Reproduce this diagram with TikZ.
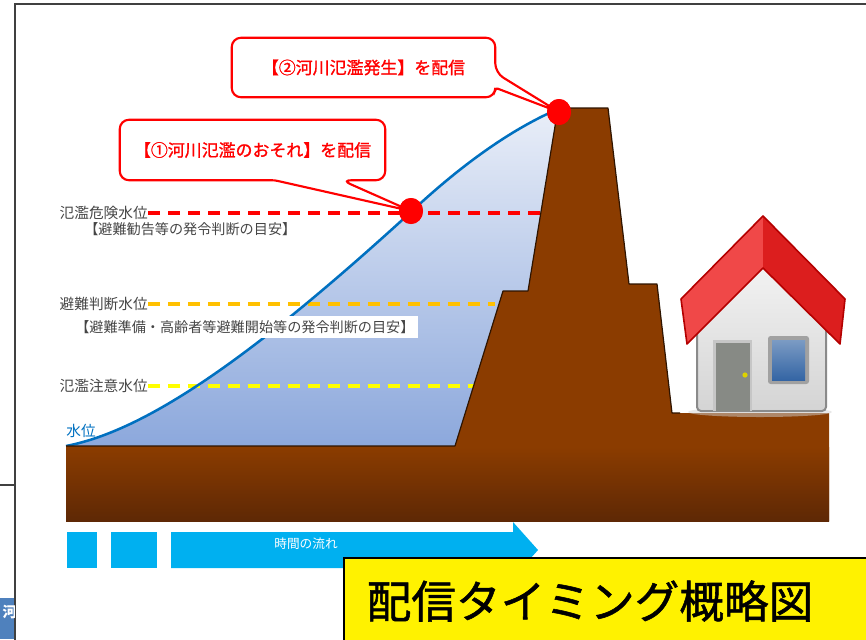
\documentclass[tikz,border=0pt]{standalone}
\usepackage{fontspec}
\newfontfamily\jp{Noto Sans CJK JP}
\newfontfamily\jpheavy[FakeBold=1.2]{Noto Sans CJK JP}
\usetikzlibrary{calc,shapes.geometric}

\definecolor{frameGray}{HTML}{404040}
\definecolor{labelGray}{HTML}{454545}
\definecolor{riverBlue}{HTML}{0070C0}
\definecolor{waterTop}{HTML}{E9EEF8}
\definecolor{waterBottom}{HTML}{8CA8DC}
\definecolor{earth}{HTML}{8B3C00}
\definecolor{earthDark}{HTML}{5E2805}
\definecolor{earthLine}{HTML}{2E1400}
\definecolor{alertRed}{HTML}{FF0000}
\definecolor{warnOrange}{HTML}{FFC000}
\definecolor{cautionYellow}{HTML}{FFFF00}
\definecolor{timeCyan}{HTML}{00B0F0}
\definecolor{roofLight}{HTML}{F04848}
\definecolor{roofDark}{HTML}{DC1E1E}
\definecolor{roofLine}{HTML}{B40000}
\definecolor{wallLight}{HTML}{F4F4F4}
\definecolor{wallShade}{HTML}{D4D4D4}
\definecolor{wallLine}{HTML}{8A8A8A}
\definecolor{doorGray}{HTML}{878A85}
\definecolor{windowBlue}{HTML}{3465A4}
\definecolor{tabBlue}{HTML}{4F81BD}

\begin{document}
\begin{tikzpicture}[x=0.75pt,y=-0.75pt,
  levelname/.style={font=\jp\fontsize{11}{13}\selectfont, text=labelGray, inner sep=0pt, anchor=east},
  levelnote/.style={font=\jp\fontsize{10.6}{12.5}\selectfont, text=labelGray, inner sep=0pt, anchor=west},
  levelline/.style={line width=3pt, dash pattern=on 9pt off 6pt},
  callouttext/.style={font=\jpheavy\fontsize{12.7}{15}\selectfont, text=alertRed, inner sep=0pt},
  calloutbox/.style={draw=alertRed, line width=1.6pt, fill=white, rounded corners=7pt},
  alertdot/.style={ellipse, fill=alertRed, minimum width=18pt, minimum height=19.5pt, inner sep=0pt},
  timebox/.style={fill=timeCyan, inner sep=0pt, anchor=north west},
]
\useasboundingbox (0,0) rectangle (866,639);
\clip (0,0) rectangle (866,639);

% page frame
\draw[frameGray, line width=2pt] (15,640) -- (15,4) -- (867,4);
\draw[frameGray, line width=0.8pt] (0,485) -- (15,485);
\begin{scope}
  \clip (0,598) rectangle (14,639);
  \fill[tabBlue] (0,598) rectangle (14,639);
  \node[font=\jp\bfseries\fontsize{11}{13}\selectfont, text=white, inner sep=0pt] (tab) at (10,612) {河};
\end{scope}

% water body
\shade[top color=waterTop, bottom color=waterBottom]
  (66,446) .. controls (150,430) and (260,350) .. (411,212)
  .. controls (460,166) and (510,130) .. (556,110)
  -- (560,446) -- cycle;

% water level levels
\node[levelname] (lv1) at (148,213) {氾濫危険水位};
\node[levelname] (lv2) at (148,304) {避難判断水位};
\node[levelname] (lv3) at (148,386) {氾濫注意水位};
\coordinate (lv1end) at (545,213);
\coordinate (lv2end) at (495,304);
\coordinate (lv3end) at (475,386);
\draw[levelline, alertRed] (lv1.east) -- (lv1end);
\draw[levelline, warnOrange] (lv2.east) -- (lv2end);
\draw[levelline, cautionYellow] (lv3.east) -- (lv3end);

% rising water level
\draw[riverBlue, line width=1.9pt]
  (66,446) .. controls (150,430) and (260,350) .. (411,212)
  .. controls (460,166) and (510,130) .. (556,110);
\node[font=\jp\fontsize{11}{13}\selectfont, text=riverBlue, inner sep=0pt] (wl) at (81,431) {水位};

% ground and levee
\fill[earth] (66,446) -- (455,446) -- (503,291) -- (528,291) -- (558,108)
  -- (608,108) -- (629,284) -- (657,284) -- (672,413) -- (829,413)
  -- (829,521) -- (66,521) -- cycle;
\shade[top color=earth, bottom color=earthDark] (66,447) rectangle (829,521);
\draw[earthLine, line width=0.9pt, line join=round] (66,446) -- (455,446) -- (503,291) -- (528,291)
  -- (558,108) -- (608,108) -- (629,284) -- (657,284) -- (672,413) -- (680,413);

% level notes
\node[levelnote] (nt1) at (84,229) {【避難勧告等の発令判断の目安】};
\node[levelnote, fill=white, inner xsep=3pt, inner ysep=3pt] (nt2) at (71,327) {【避難準備・高齢者等避難開始等の発令判断の目安】};

% alert points
\node[alertdot] (d1) at (411,211) {};
\node[alertdot] (d2) at (559,112) {};

% callout 1
\node[minimum width=198.75pt, minimum height=45pt, inner sep=0pt] (c1) at (252.5,150) {};
\draw[calloutbox] (c1.north) -- (c1.north east) -- (c1.south east)
  -- ($(c1.south west)+(222,0)$) [rounded corners=2pt] -- (d1.center)
  -- ($(c1.south west)+(155,0)$) [rounded corners=7pt] -- (c1.south west)
  -- (c1.north west) -- cycle;
\node[callouttext] (t1) at (c1.center) {【①河川氾濫のおそれ】を配信};

% callout 2
\node[minimum width=197.25pt, minimum height=44.25pt, inner sep=0pt] (c2) at (363.5,67.5) {};
\draw[calloutbox] (c2.north) -- (c2.north east)
  -- ($(c2.north east)+(0,35)$) [rounded corners=2pt] -- (d2.center)
  -- ($(c2.north east)+(0,50)$) [rounded corners=7pt] -- (c2.south east)
  -- (c2.south west) -- (c2.north west) -- cycle;
\node[callouttext] (t2) at (c2.center) {【②河川氾濫発生】を配信};
\node[alertdot] at (d1) {};
\node[alertdot] at (d2) {};

% house
\fill[gray!35, opacity=0.5] (760,412) ellipse (72 and 5);
\shade[top color=wallLight, bottom color=wallShade, draw=wallLine, line width=1.5pt, rounded corners=3pt]
  (697,411) -- (697,322) -- (763,258) -- (826,322) -- (826,411) -- cycle;
\fill[gray!45] (713,340) rectangle (752,411);
\fill[doorGray] (716,343) rectangle (750,411);
\fill[yellow!70!olive] (745,375) circle (2.6);
\fill[wallLine!80, rounded corners=2pt] (768,336) rectangle (809,384);
\shade[top color=windowBlue!65!white, bottom color=windowBlue] (772,340) rectangle (805,380);
\fill[roofLight] (763,216) -- (681,299) -- (687,344) -- (763,268) -- cycle;
\fill[roofDark] (763,216) -- (763,268) -- (840,344) -- (845,299) -- cycle;
\draw[roofLine, line width=1.2pt, line join=round]
  (763,216) -- (681,299) -- (687,344) -- (763,268) -- (840,344) -- (845,299) -- cycle;

% flow of time
\node[timebox, minimum width=22.5pt, minimum height=27pt] (tm1) at (67,532) {};
\node[timebox, minimum width=34.5pt, minimum height=27pt] (tm2) at (111,532) {};
\fill[timeCyan] (171,532) -- (513,532) -- (513,522) -- (538,550) -- (513,578)
  -- (513,568) -- (171,568) -- cycle;
\node[font=\jp\fontsize{9.5}{11}\selectfont, text=white, inner sep=0pt] (tm3) at (306,544) {時間の流れ};

% title
\node[draw=black, line width=1.4pt, fill=yellow, minimum width=405pt, minimum height=75pt,
  anchor=north west, inner sep=0pt] (ttlbox) at (343,557) {};
\node[font=\jpheavy\fontsize{33.5}{38}\selectfont, text=black, inner sep=0pt] (ttl) at (590,601) {配信タイミング概略図};
\end{tikzpicture}
\end{document}
